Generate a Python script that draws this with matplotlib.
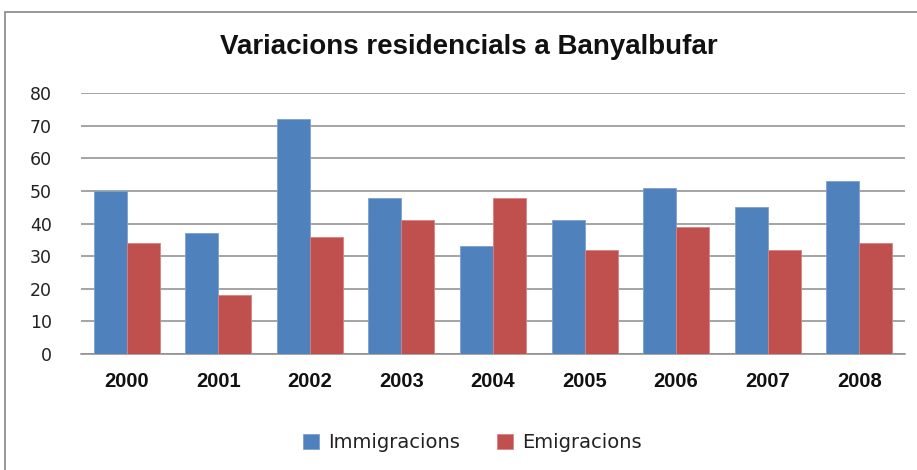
import matplotlib
matplotlib.use("Agg")
import matplotlib.pyplot as plt
import numpy as np
from matplotlib.patches import Rectangle

years = ["2000", "2001", "2002", "2003", "2004", "2005", "2006", "2007", "2008"]
immigracions = [50, 37, 72, 48, 33, 41, 51, 45, 53]
emigracions = [34, 18, 36, 41, 48, 32, 39, 32, 34]
yticks = [0, 10, 20, 30, 40, 50, 60, 70, 80]

plt.rcParams['font.family'] = ['Liberation Sans', 'DejaVu Sans']

W, H = 917, 470
fig = plt.figure(figsize=(W / 100, H / 100), dpi=100)
fig.patch.set_facecolor("white")

# outer chart border
fig.patches.append(Rectangle((5 / W, -0.01), 1.2, 1 - 12 / H + 0.01, transform=fig.transFigure,
                             fill=False, edgecolor="#868686", linewidth=1.2))

left, right, top, bottom = 81, 905, 93.3, 354
ax = fig.add_axes([left / W, 1 - bottom / H, (right - left) / W, (bottom - top) / H])

x = np.arange(len(years))
bw = 0.36
blue = "#4F81BD"
red = "#C0504D"
ax.bar(x - bw / 2, immigracions, bw, color=blue, edgecolor="#7FA0CF", linewidth=0.6,
       label="Immigracions", zorder=3)
ax.bar(x + bw / 2, emigracions, bw, color=red, edgecolor="#D88280", linewidth=0.6,
       label="Emigracions", zorder=3)

ax.set_xlim(-0.5, len(years) - 0.5)
ax.set_ylim(0, 80)
ax.set_yticks(yticks)
ax.set_yticklabels([str(v) for v in yticks], fontsize=12.5, color="#222222", family="DejaVu Sans")
ax.yaxis.grid(True, color="#8C8C8C", linewidth=1.1, zorder=0)
ax.set_axisbelow(True)
ax.set_xticks(x)
ax.set_xticklabels(years, fontsize=14.5, fontweight="bold", color="#111111")
ax.tick_params(axis="y", length=0, pad=21)
ax.tick_params(axis="x", length=0, pad=13)
for s in ["top", "right", "left"]:
    ax.spines[s].set_visible(False)
ax.spines["bottom"].set_color("#8C8C8C")
ax.spines["bottom"].set_linewidth(1.1)
ax.set_facecolor("white")

fig.text(0.5 * (215 + 722) / W, 1 - 47 / H, "Variacions residencials a Banyalbufar",
         ha="center", va="center", fontsize=20, fontweight="bold", color="#111111")

leg = fig.legend(loc="center", bbox_to_anchor=(0.5 * (300 + 645) / W, 1 - 443 / H), ncol=2,
                 frameon=False, prop={"family": "DejaVu Sans", "size": 14},
                 handlelength=0.8, handleheight=0.8,
                 handletextpad=0.5, columnspacing=1.9)
for t in leg.get_texts():
    t.set_color("#222222")

fig.savefig("out.png", dpi=100, facecolor="white")
